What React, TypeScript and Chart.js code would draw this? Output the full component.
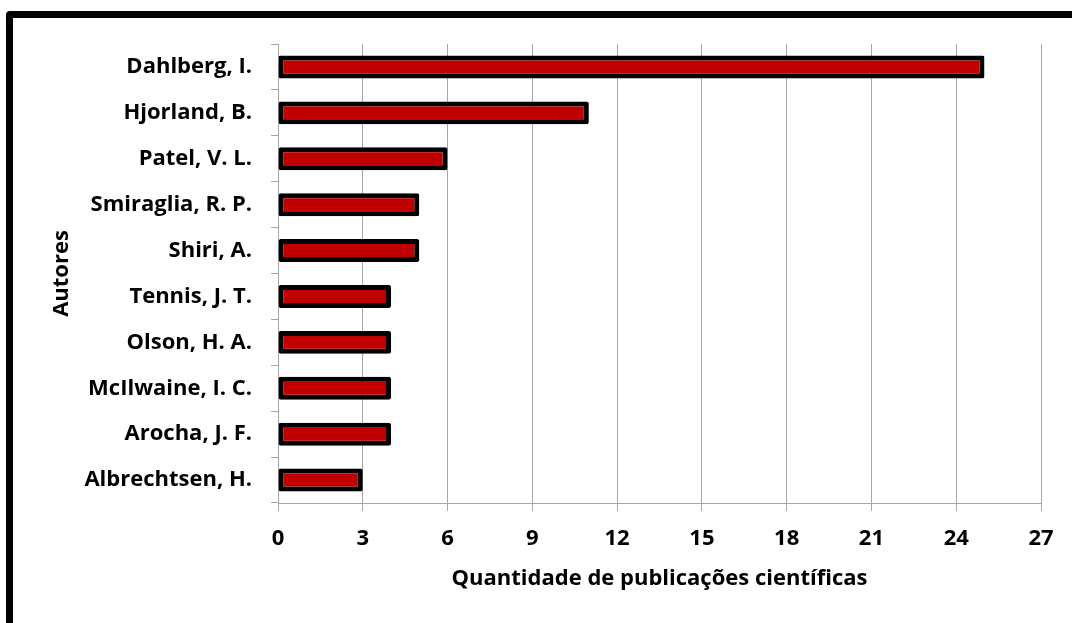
import React, { useEffect, useRef } from "react";
import { Chart, registerables } from "chart.js";

Chart.register(...registerables);

const authors = [
  "Dahlberg, I.",
  "Hjorland, B.",
  "Patel, V. L.",
  "Smiraglia, R. P.",
  "Shiri, A.",
  "Tennis, J. T.",
  "Olson, H. A.",
  "McIlwaine, I. C.",
  "Arocha, J. F.",
  "Albrechtsen, H.",
];
const publications = [25, 11, 6, 5, 5, 4, 4, 4, 4, 3];
const xMax = 27;
const xStep = 3;
const xTitle = "Quantidade de publicações científicas";
const yTitle = "Autores";

const FONT = "'Open Sans', Lato, sans-serif";
const FS = 22;

export default function App() {
  const ref = useRef<HTMLCanvasElement | null>(null);

  useEffect(() => {
    document.body.style.margin = "0";
    const canvas = ref.current;
    if (!canvas) return;
    const chart = new Chart(canvas, {
      type: "bar",
      data: {
        labels: authors,
        datasets: [
          {
            data: publications,
            backgroundColor: "#C00000",
            borderColor: "#000000",
            borderWidth: 5,
            borderSkipped: false,
            borderRadius: 2,
            barPercentage: 0.5,
            categoryPercentage: 1,
          },
        ],
      },
      options: {
        indexAxis: "y",
        responsive: false,
        animation: false,
        layout: { padding: { left: 47, top: 44, right: 31, bottom: 27 } },
        plugins: { legend: { display: false }, tooltip: { enabled: false } },
        scales: {
          x: {
            min: 0,
            max: xMax,
            ticks: {
              stepSize: xStep,
              color: "#000",
              padding: 15,
              font: { family: FONT, size: FS, weight: "bold" },
            },
            grid: {
              color: "#a6a6a6",
              lineWidth: 1,
              tickLength: 8,
              drawTicks: true,
            },
            border: { color: "#a6a6a6", width: 1 },
            title: {
              display: true,
              text: xTitle,
              color: "#000",
              font: { family: FONT, size: FS, weight: "bold" },
            },
            afterFit: (scale: any) => {
              scale.height = 93;
            },
          },
          y: {
            ticks: {
              color: "#000",
              padding: 19,
              font: { family: FONT, size: FS, weight: "bold" },
            },
            grid: {
              drawOnChartArea: false,
              drawTicks: true,
              tickLength: 7,
              color: "#a6a6a6",
            },
            border: { color: "#a6a6a6", width: 1 },
            title: {
              display: true,
              text: yTitle,
              color: "#000",
              padding: { top: 2, bottom: 4 },
              font: { family: FONT, size: FS, weight: "bold" },
            },
            afterFit: (scale: any) => {
              scale.width = 231;
            },
          },
        },
      },
    });
    return () => chart.destroy();
  }, []);

  return (
    <div
      style={{
        position: "fixed",
        left: 0,
        top: 0,
        width: 1072,
        height: 623,
        overflow: "hidden",
        background: "#fff",
      }}
    >
      <div
        style={{
          position: "absolute",
          left: 6,
          top: 11,
          width: 1200,
          height: 800,
          border: "7px solid #000",
          borderRadius: 4,
          boxSizing: "border-box",
        }}
      />
      <canvas
        ref={ref}
        width={1072}
        height={623}
        style={{ position: "absolute", left: 0, top: 0 }}
      />
    </div>
  );
}
